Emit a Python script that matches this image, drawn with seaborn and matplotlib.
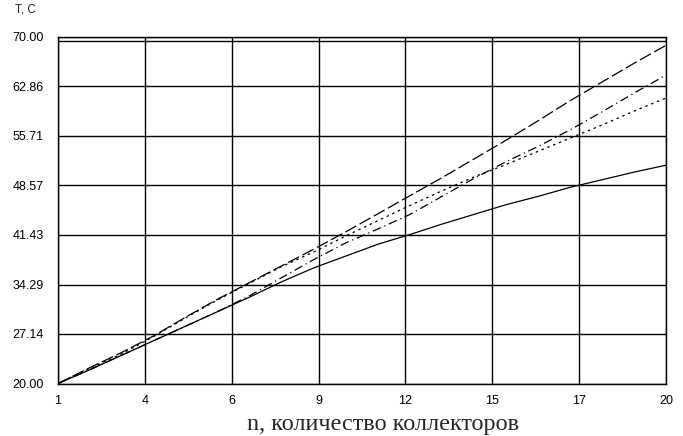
import numpy as np
import pandas as pd
import matplotlib
matplotlib.use("Agg")
import matplotlib.pyplot as plt
import seaborn as sns

# number of collectors
n = list(range(1, 21))

# temperatures
t_long_dash = [20.0, 22.3, 24.5, 26.9, 29.6, 32.2, 34.6, 37.0, 39.4, 41.9,
               44.5, 47.1, 49.7, 52.4, 55.1, 57.9, 60.8, 63.5, 66.2, 68.8]
t_dash_dot = [20.0, 22.0, 24.1, 26.2, 28.3, 30.4, 32.7, 35.3, 37.9, 40.3,
              42.3, 44.4, 47.0, 49.6, 52.0, 54.2, 56.6, 59.2, 61.9, 64.5]
t_dotted = [20.0, 22.2, 24.3, 26.8, 29.5, 32.1, 34.5, 36.9, 39.0, 41.3,
            43.5, 45.7, 47.8, 49.8, 51.6, 53.5, 55.4, 57.3, 59.3, 61.2]
t_solid = [20.0, 22.0, 24.1, 26.2, 28.3, 30.4, 32.5, 34.7, 36.7, 38.4,
           40.1, 41.5, 43.0, 44.4, 45.8, 47.0, 48.3, 49.4, 50.5, 51.5]

x_tick_labels = ["1", "4", "6", "9", "12", "15", "17", "20"]
y_tick_labels = ["20.00", "27.14", "34.29", "41.43", "48.57", "55.71", "62.86", "70.00"]

series = {"long": t_long_dash, "dashdot": t_dash_dot, "dot": t_dotted, "solid": t_solid}
df = pd.concat(
    [pd.DataFrame({"n": n, "T": v, "s": k}) for k, v in series.items()],
    ignore_index=True,
)

sns.set_style("white")
plt.rcParams["font.family"] = ["Liberation Sans", "DejaVu Sans"]

fig = plt.figure(figsize=(6.83, 4.36), dpi=100)
ax = fig.add_axes([58 / 683, 1 - 383.5 / 436, (666 - 58) / 683, (383.5 - 37) / 436])

dashes = {"long": (10, 3), "dashdot": (7, 3, 1, 3), "dot": (2, 3), "solid": ""}
sns.lineplot(data=df, x="n", y="T", hue="s", style="s",
             palette={k: "black" for k in series}, dashes=dashes,
             linewidth=0.9, legend=False, ax=ax)

ax.set_xlim(1, 20)
ax.set_ylim(20, 70)
ax.set_xticks(np.linspace(1, 20, 8))
ax.set_xticklabels(x_tick_labels)
ax.set_yticks(np.linspace(20, 70, 8))
ax.set_yticklabels(y_tick_labels)
ax.tick_params(axis="both", length=0, labelsize=9, colors="black")
ax.tick_params(axis="y", pad=10)
ax.tick_params(axis="x", pad=8)
ax.grid(True, color="black", linewidth=1)
for sp in ax.spines.values():
    sp.set_color("black")
    sp.set_linewidth(1)

# second line under the top border
ax.axhline(70 - 4 / 6.93, color="black", linewidth=1)

ax.set_xlabel("n, количество коллекторов", family="Liberation Serif",
              fontsize=17.5, va="center")
ax.xaxis.set_label_coords(0.534, -(424 - 383.5) / 346.5)
ax.set_ylabel("")
fig.text(15 / 683, 1 - 9 / 436, "T, C", fontsize=8.5, va="center", ha="left")

fig.savefig("out.png", dpi=100)
